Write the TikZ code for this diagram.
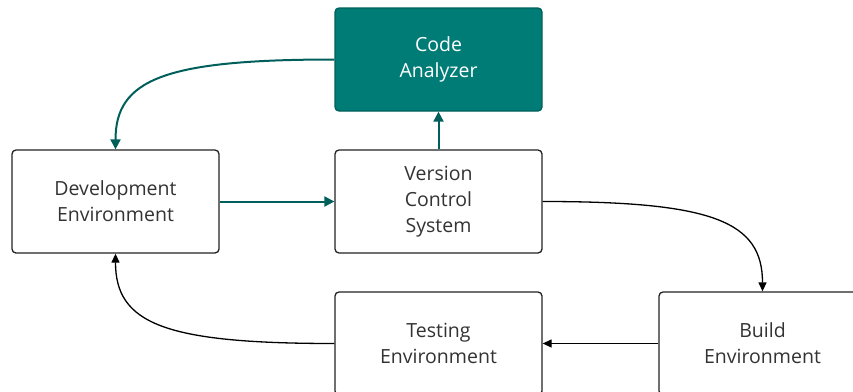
\documentclass[tikz,border=0pt]{standalone}
\usepackage{fontspec}
\setmainfont{Open Sans}
\usetikzlibrary{arrows.meta}
\definecolor{tealfill}{HTML}{007C77}
\definecolor{tealdark}{HTML}{005F5B}
\definecolor{boxline}{HTML}{222222}
\begin{document}
\begin{tikzpicture}[x=1pt,y=-1pt,
  box/.style={draw=boxline,line width=1.3pt,rounded corners=4pt,fill=white,
    minimum width=207pt,minimum height=103pt,align=center,
    font=\fontsize{19.5}{26}\selectfont,text=black!80},
  hbox/.style={box,fill=tealfill,draw=tealdark,text=white},
  tarrow/.style={draw=tealdark,line width=2pt,-{Triangle[length=10pt,width=10pt]}},
  barrow/.style={draw=black,line width=1.3pt,-{Triangle[length=9pt,width=8pt]}}]
\useasboundingbox (0,0) rectangle (853,391);
\clip (0,0) rectangle (853,391);
\node[hbox] (ca) at (438.5,59.5) {Code\\Analyzer};
\node[box] (dev) at (115.5,201.5) {Development\\Environment};
\node[box] (vcs) at (438.5,201.5) {Version\\Control\\System};
\node[box] (test) at (438.5,343.5) {Testing\\Environment};
\node[box] (build) at (762.5,343.5) {Build\\Environment};
\draw[tarrow] (ca.west) .. controls +(-170,0) and +(0,-70) .. (dev.north);
\draw[tarrow] (dev.east) -- (vcs.west);
\draw[tarrow] (vcs.north) -- (ca.south);
\draw[barrow] (vcs.east) .. controls +(170,0) and +(0,-70) .. (build.north);
\draw[barrow] (build.west) -- (test.east);
\draw[barrow] (test.west) .. controls +(-170,0) and +(0,70) .. (dev.south);
\end{tikzpicture}
\end{document}
